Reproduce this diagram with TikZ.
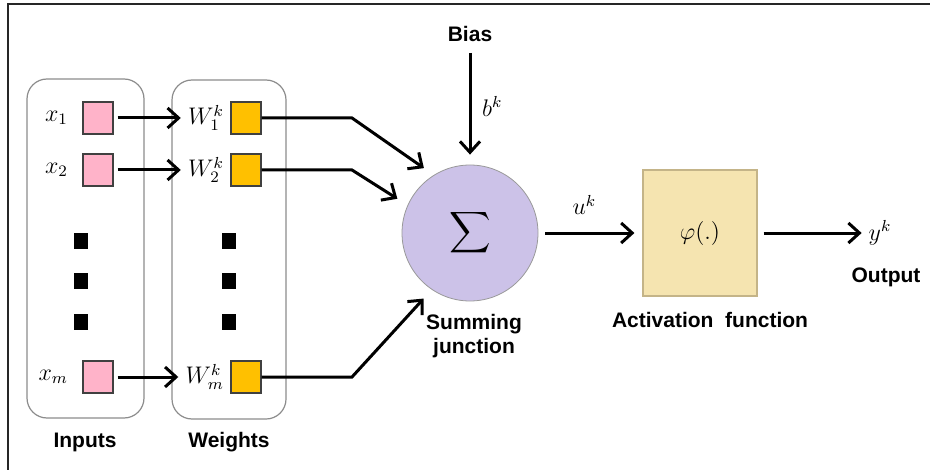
\documentclass[tikz,border=0pt]{standalone}
\usepackage{fontspec}
\setsansfont{Liberation Sans}
\usepackage{amsmath}
\usepackage{tikz}
\usetikzlibrary{arrows.meta,positioning}
\definecolor{inpink}{HTML}{FFB3C9}
\definecolor{wgold}{HTML}{FFC000}
\definecolor{sumlav}{HTML}{CCC2E8}
\definecolor{actwheat}{HTML}{F5E4B0}
\definecolor{actedge}{HTML}{C4B488}

\begin{document}
\begin{tikzpicture}[x=0.5pt, y=-0.5pt, >={Straight Barb[length=5.5pt,width=10pt]},
  font=\fontsize{11.5}{13.8}\selectfont,
  lab/.style={font=\sffamily\bfseries\fontsize{10.5}{12}\selectfont},
  group/.style={draw=black!45, line width=0.6pt, rounded corners=10pt},
  insq/.style={draw=black!75, fill=inpink, line width=0.7pt,
    minimum width=15pt, minimum height=16pt, inner sep=0pt},
  wsq/.style={insq, fill=wgold},
  blk/.style={fill=black, minimum width=7pt, minimum height=8pt, inner sep=0pt},
  arr/.style={->, line width=1.5pt},
  sumc/.style={circle, draw=black!40, fill=sumlav, minimum size=68pt,
    inner sep=0pt, font=\Large},
  actbox/.style={draw=actedge, fill=actwheat, line width=0.6pt,
    minimum width=57pt, minimum height=63pt}]
  \useasboundingbox (0,0) rectangle (930,470);

  % Frame (top and left edges only)
  \draw[black!85, line width=0.8pt] (8,470) -- (8,4) -- (930,4);

  % Groups
  \draw[group] (27,79) rectangle (144,418);
  \draw[group] (172,80) rectangle (286,419);
  \node[lab] (inputs) at (85,442) {Inputs};
  \node[lab] (weights) at (229,442) {Weights};

  % Input and weight squares
  \node[insq] (x1) at (98,118) {};
  \node[insq] (x2) at (98,170) {};
  \node[insq] (xm) at (98,377) {};
  \node[wsq] (w1) at (246,118) {};
  \node[wsq] (w2) at (246,170) {};
  \node[wsq] (wm) at (246,377) {};

  \node[left=7pt of x1, inner sep=0pt] (lx1) {$x_1$};
  \node[left=7pt of x2, inner sep=0pt] (lx2) {$x_2$};
  \node[left=7pt of xm, inner sep=0pt] (lxm) {$x_m$};
  \node[left=3pt of w1, inner sep=0pt] (lw1) {$W_1^k$};
  \node[left=3pt of w2, inner sep=0pt] (lw2) {$W_2^k$};
  \node[left=3pt of wm, inner sep=0pt] (lwm) {$W_m^k$};

  \draw[arr, shorten <=2pt, shorten >=3.5pt] (x1) -- (lw1);
  \draw[arr, shorten <=2pt, shorten >=3.5pt] (x2) -- (lw2);
  \draw[arr, shorten <=2pt, shorten >=3.5pt] (xm) -- (lwm);

  % Vertical dots
  \foreach \y in {241,281,322}{
    \node[blk] (din\y) at (81,\y) {};
    \node[blk] (dw\y) at (229,\y) {};
  }

  % Summing junction
  \node[sumc] (sum) at (470,233) {$\displaystyle\sum$};
  \node[lab, align=center] (sumtxt) at (474,336) {Summing\\junction};

  \coordinate (k1) at (352,118);
  \coordinate (k2) at (352,170);
  \coordinate (km) at (352,377);
  \draw[arr, shorten >=6pt] (w1) -- (k1) -- (sum.122);
  \draw[arr, shorten >=6pt] (w2) -- (k2) -- (sum.156);
  \draw[arr, shorten >=6pt] (wm) -- (km) -- (sum.236);

  % Bias
  \node[lab] (bias) at (470,34) {Bias};
  \draw[arr, shorten <=2pt, shorten >=5pt] (bias) -- (sum)
    node[midway, right=2pt] {$b^k$};

  % Activation function
  \node[actbox] (act) at (700,233) {$\varphi(.)$};
  \node[lab] (acttxt) at (710,320) {Activation~ function};
  \draw[arr, shorten <=3.5pt, shorten >=4pt] (sum) -- (act)
    node[midway, above=5pt, xshift=-3pt] {$u^k$};

  % Output
  \node (yk) at (880,233) {$y^k$};
  \node[lab] (output) at (886,277) {Output};
  \draw[arr, shorten <=3pt] (act) -- (yk);
\end{tikzpicture}
\end{document}
